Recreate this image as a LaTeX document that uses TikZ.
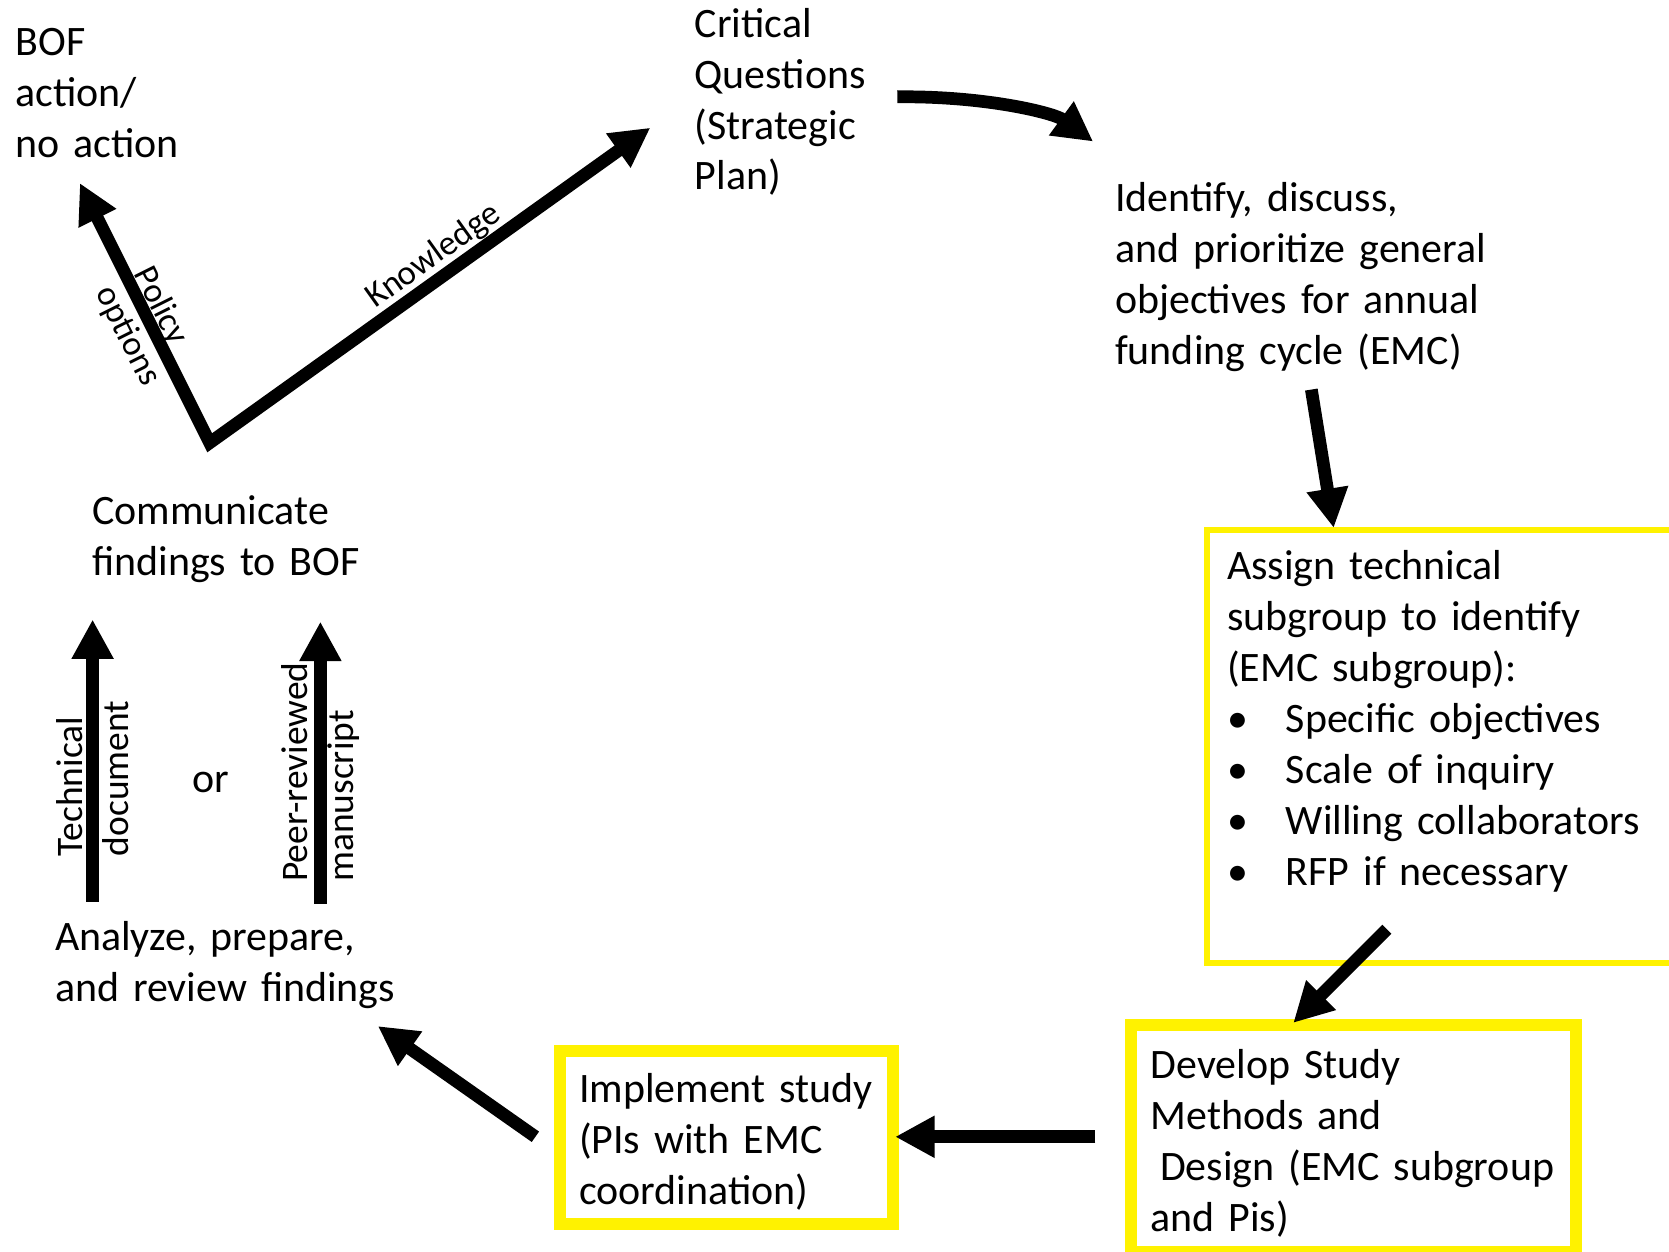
\documentclass[tikz,border=0pt]{standalone}
\usepackage{fontspec}
\setmainfont{Carlito}
\usetikzlibrary{arrows.meta,positioning}

\begin{document}
\begin{tikzpicture}[
    x=0.01cm, y=-0.01cm,
    every node/.style={font=\fontsize{11.2pt}{13.6pt}\selectfont, inner sep=0, align=left},
    txt/.style={anchor=base west},
    lbl/.style={font=\fontsize{10pt}{12.2pt}\selectfont},
    small lbl/.style={font=\fontsize{9.3pt}{11.4pt}\selectfont},
    ybox/.style={draw=yellow, line width=3.2pt, outer sep=0, anchor=north west, align=left, inner xsep=0.18cm},
    fat/.style={line width=3.4pt, -{Triangle[length=0.37cm, width=0.37cm]}}
]
\useasboundingbox (0,0) rectangle (1568,1176);
\clip (0,0) rectangle (1568,1176);

% Steps
\node[txt, text width=2cm] (bof) at (14,52) {BOF\\action/\\no action};
\node[txt, text width=2cm] (critical) at (652,35) {Critical\\Questions\\(Strategic\\Plan)};
\node[txt, text width=4cm] (identify) at (1047,199) {Identify, discuss,\\and prioritize general\\objectives for annual\\funding cycle (EMC)};
\node[txt, text width=3cm] (communicate) at (86,493) {Communicate\\findings to BOF};
\node[txt, text width=4cm] (analyze) at (51,893) {Analyze, prepare,\\and review findings};
\node[txt] (or) at (180,745) {or};

% Boxes
\node[ybox, line width=1.8pt, inner xsep=0.19cm, minimum width=4.86cm, minimum height=4.065cm, text width=4.48cm] (assign) at (1134,498)
    {Assign technical\\subgroup to identify\\(EMC subgroup):\\
     \makebox[0.55cm][l]{\textbullet}Specific objectives\\
     \makebox[0.55cm][l]{\textbullet}Scale of inquiry\\
     \makebox[0.55cm][l]{\textbullet}Willing collaborators\\
     \makebox[0.55cm][l]{\textbullet}RFP if necessary\\[0.06cm] \mbox{}};
\node[ybox, minimum width=4.17cm, minimum height=2.13cm, text width=3.81cm] (develop) at (1063,963)
    {\rule{0pt}{0.36cm}Develop Study\\Methods and\\\hspace*{0.226em}Design (EMC subgroup\\and Pis)};
\node[ybox, minimum width=3.13cm, minimum height=1.63cm, text width=2.77cm] (implement) at (526,987)
    {\rule{0pt}{0.36cm}Implement study\\(PIs with EMC\\coordination)};

% Arrow ends
\coordinate (bend) at (197,416);
\coordinate (bof-in) at (75,172);
\coordinate (crit-in) at (611,120);
\coordinate (crit-out) at (843,91);
\coordinate (ident-in) at (1027,133);
\coordinate (ident-out) at (1232,366);
\coordinate (assign-in) at (1253,496);
\coordinate (assign-out) at (1303,873);
\coordinate (develop-in) at (1215,961);
\coordinate (develop-out) at (1029,1068);
\coordinate (implement-in) at (841,1068);
\coordinate (implement-out) at (503,1068);
\coordinate (analyze-in) at (355,964);
\coordinate (tech-out) at (87,847);
\coordinate (tech-in) at (87,582);
\coordinate (peer-out) at (301,849);
\coordinate (peer-in) at (301,584);

% Flow
\draw[line width=3.4pt, {Triangle[length=0.37cm, width=0.37cm]}-{Triangle[length=0.37cm, width=0.37cm]}]
    (bof-in) -- node[small lbl, pos=0.545, sloped, yshift=-0.04cm] (policy) {Policy\\options}
    (bend) -- node[small lbl, pos=0.537, sloped, above=0pt] (knowledge) {Knowledge} (crit-in);
\draw[fat] (crit-out) .. controls (925,90) and (990,106) .. (ident-in);
\draw[fat] (ident-out) -- (assign-in);
\draw[fat] (assign-out) -- (develop-in);
\draw[fat] (develop-out) -- (implement-in);
\draw[fat] (implement-out) -- (analyze-in);
\draw[fat] (tech-out) -- (tech-in);
\draw[fat] (peer-out) -- (peer-in);

% Outputs
\node[lbl, rotate=90, anchor=west, text width=2cm] (technical) at (87,805) {Technical\\document};
\node[lbl, rotate=90, anchor=west, text width=2.4cm] (peer) at (301,829) {Peer-reviewed\\manuscript};

\end{tikzpicture}
\end{document}
